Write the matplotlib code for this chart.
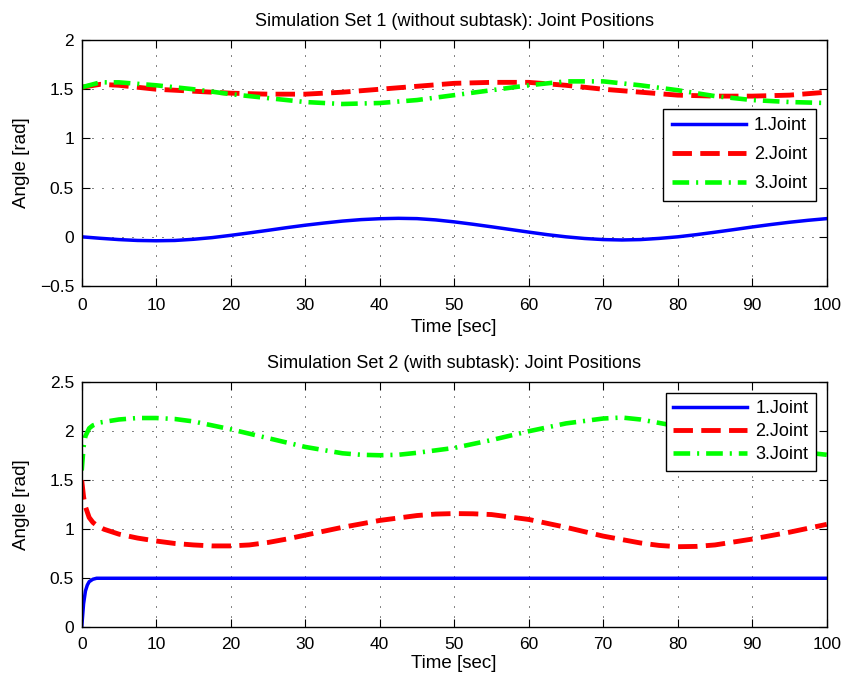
import matplotlib
matplotlib.use("Agg")
import matplotlib.pyplot as plt

plt.rcParams['font.family'] = ['Liberation Sans', 'DejaVu Sans']
plt.rcParams['lines.scale_dashes'] = False

# ---- Data: Simulation Set 1 (without subtask) ----
t1_j1 = [0, 2.5, 5, 7.5, 10, 12.5, 15, 17.5, 20, 22.5, 25, 27.5, 30, 32.5, 35, 37.5, 40, 42.5,
         45, 47.5, 50, 52.5, 55, 57.5, 60, 62.5, 65, 67.5, 70, 72.5, 75, 77.5, 80, 82.5, 85,
         87.5, 90, 92.5, 95, 97.5, 100]
s1_joint1 = [0.0, -0.015, -0.028, -0.037, -0.04, -0.037, -0.025, -0.008, 0.015, 0.04, 0.066,
             0.093, 0.118, 0.14, 0.16, 0.175, 0.184, 0.188, 0.185, 0.172, 0.152, 0.128, 0.102,
             0.075, 0.048, 0.022, 0.0, -0.017, -0.028, -0.032, -0.028, -0.016, 0.0, 0.022,
             0.047, 0.073, 0.1, 0.125, 0.148, 0.168, 0.185]
t1 = [0, 2.5, 5, 10, 15, 20, 25, 30, 35, 40, 45, 50, 55, 60, 65, 70, 75, 80, 85, 90, 95, 100]
s1_joint2 = [1.52, 1.55, 1.54, 1.50, 1.48, 1.46, 1.45, 1.45, 1.47, 1.50, 1.53, 1.56, 1.57,
             1.57, 1.54, 1.50, 1.47, 1.44, 1.43, 1.43, 1.44, 1.47]
s1_joint3 = [1.52, 1.57, 1.57, 1.54, 1.50, 1.45, 1.41, 1.37, 1.35, 1.36, 1.39, 1.44, 1.49,
             1.54, 1.58, 1.58, 1.54, 1.49, 1.43, 1.39, 1.37, 1.36]

# ---- Data: Simulation Set 2 (with subtask) ----
t2_j1 = [0, 0.25, 0.5, 0.75, 1.0, 1.5, 2.0, 3.0, 100]
s2_joint1 = [0.0, 0.24, 0.37, 0.43, 0.465, 0.49, 0.5, 0.5, 0.5]

t2_j2 = [0, 0.25, 0.5, 1, 1.5, 2, 3, 5, 7.5, 10, 12.5, 15, 17.5, 20, 22.5, 25, 27.5, 30, 35,
         40, 45, 47.5, 50, 52.5, 55, 60, 65, 70, 75, 77.5, 80, 82.5, 85, 90, 95, 100]
s2_joint2 = [1.5, 1.33, 1.23, 1.12, 1.07, 1.04, 1.0, 0.95, 0.91, 0.88, 0.855, 0.84, 0.83, 0.83,
             0.84, 0.865, 0.9, 0.94, 1.02, 1.09, 1.14, 1.155, 1.16, 1.158, 1.15, 1.10, 1.02,
             0.93, 0.86, 0.835, 0.822, 0.825, 0.84, 0.9, 0.97, 1.05]

t2_j3 = [0, 0.25, 0.5, 1, 1.5, 2.5, 5, 7.5, 10, 12.5, 15, 20, 25, 30, 35, 37.5, 40, 42.5, 45,
         50, 55, 60, 65, 70, 72.5, 75, 80, 85, 90, 95, 100]
s2_joint3 = [1.6, 1.84, 1.95, 2.03, 2.06, 2.09, 2.12, 2.135, 2.135, 2.125, 2.1, 2.02, 1.93, 1.84,
             1.775, 1.76, 1.755, 1.76, 1.78, 1.83, 1.91, 2.0, 2.08, 2.13, 2.14, 2.12, 2.05,
             1.96, 1.87, 1.8, 1.76]

labels = ['1.Joint', '2.Joint', '3.Joint']
xticks = [0, 10, 20, 30, 40, 50, 60, 70, 80, 90, 100]

BLUE = '#0000ff'
RED = '#ff0000'
GREEN = '#00ff00'
DASH = (0, (14, 6))
DASHDOT = (0, (12, 5, 1.5, 5))

fig = plt.figure(figsize=(8.45, 6.81), dpi=100)
ax1 = fig.add_axes([0.0967, 0.580, 0.8817, 0.3612])
ax2 = fig.add_axes([0.0967, 0.0789, 0.8817, 0.3598])


def style(ax, ylim, yticks, yticklabels, xpad, xlabpad):
    ax.set_xlim(0, 100)
    ax.set_ylim(*ylim)
    ax.set_xticks(xticks)
    ax.set_xticklabels([str(v) for v in xticks])
    ax.set_yticks(yticks)
    ax.set_yticklabels(yticklabels)
    ax.tick_params(direction='in', length=5.5, width=0.8, top=True, right=True,
                   labelsize=12.5, colors='black')
    ax.tick_params(axis='x', pad=xpad)
    ax.tick_params(axis='y', pad=5.5)
    ax.grid(True, color='black', linestyle=(0, (0.7, 6.5)), linewidth=0.7)
    ax.set_axisbelow(True)
    for s in ax.spines.values():
        s.set_linewidth(1.0)
        s.set_color('black')
    ax.set_xlabel('Time [sec]', fontsize=13.5, labelpad=xlabpad)
    ax.set_ylabel('Angle [rad]', fontsize=13.5)
    ax.yaxis.set_label_coords(-0.069, 0.5)


# Top panel
ax1.plot(t1_j1, s1_joint1, color=BLUE, lw=2.5, label=labels[0])
ax1.plot(t1, s1_joint2, color=RED, lw=3.5, linestyle=DASH, label=labels[1])
ax1.plot(t1, s1_joint3, color=GREEN, lw=3.3, linestyle=DASHDOT, label=labels[2])
style(ax1, (-0.5, 2), [-0.5, 0, 0.5, 1, 1.5, 2], ['\u22120.5', '0', '0.5', '1', '1.5', '2'],
      8.5, 4.5)
ax1.set_title('Simulation Set 1 (without subtask): Joint Positions', fontsize=13, pad=10)
leg1 = ax1.legend(loc='upper right', bbox_to_anchor=(0.985, 0.721), fontsize=13,
                  handlelength=4.1, handletextpad=0.45, labelspacing=0.66,
                  borderaxespad=0, borderpad=0.48, fancybox=False, framealpha=1,
                  edgecolor='black')
leg1.get_frame().set_linewidth(1.0)

# Bottom panel
ax2.plot(t2_j1, s2_joint1, color=BLUE, lw=2.5, label=labels[0])
ax2.plot(t2_j2, s2_joint2, color=RED, lw=3.5, linestyle=DASH, label=labels[1])
ax2.plot(t2_j3, s2_joint3, color=GREEN, lw=3.3, linestyle=DASHDOT, label=labels[2])
style(ax2, (0, 2.5), [0, 0.5, 1, 1.5, 2, 2.5], ['0', '0.5', '1', '1.5', '2', '2.5'],
      7.0, 2.5)
ax2.set_title('Simulation Set 2 (with subtask): Joint Positions', fontsize=13, pad=10)
leg2 = ax2.legend(loc='upper right', bbox_to_anchor=(0.985, 0.955), fontsize=13,
                  handlelength=4.1, handletextpad=0.45, labelspacing=0.33,
                  borderaxespad=0, borderpad=0.4, fancybox=False, framealpha=1,
                  edgecolor='black')
leg2.get_frame().set_linewidth(1.0)

fig.savefig('out.png', dpi=100, facecolor='white')
